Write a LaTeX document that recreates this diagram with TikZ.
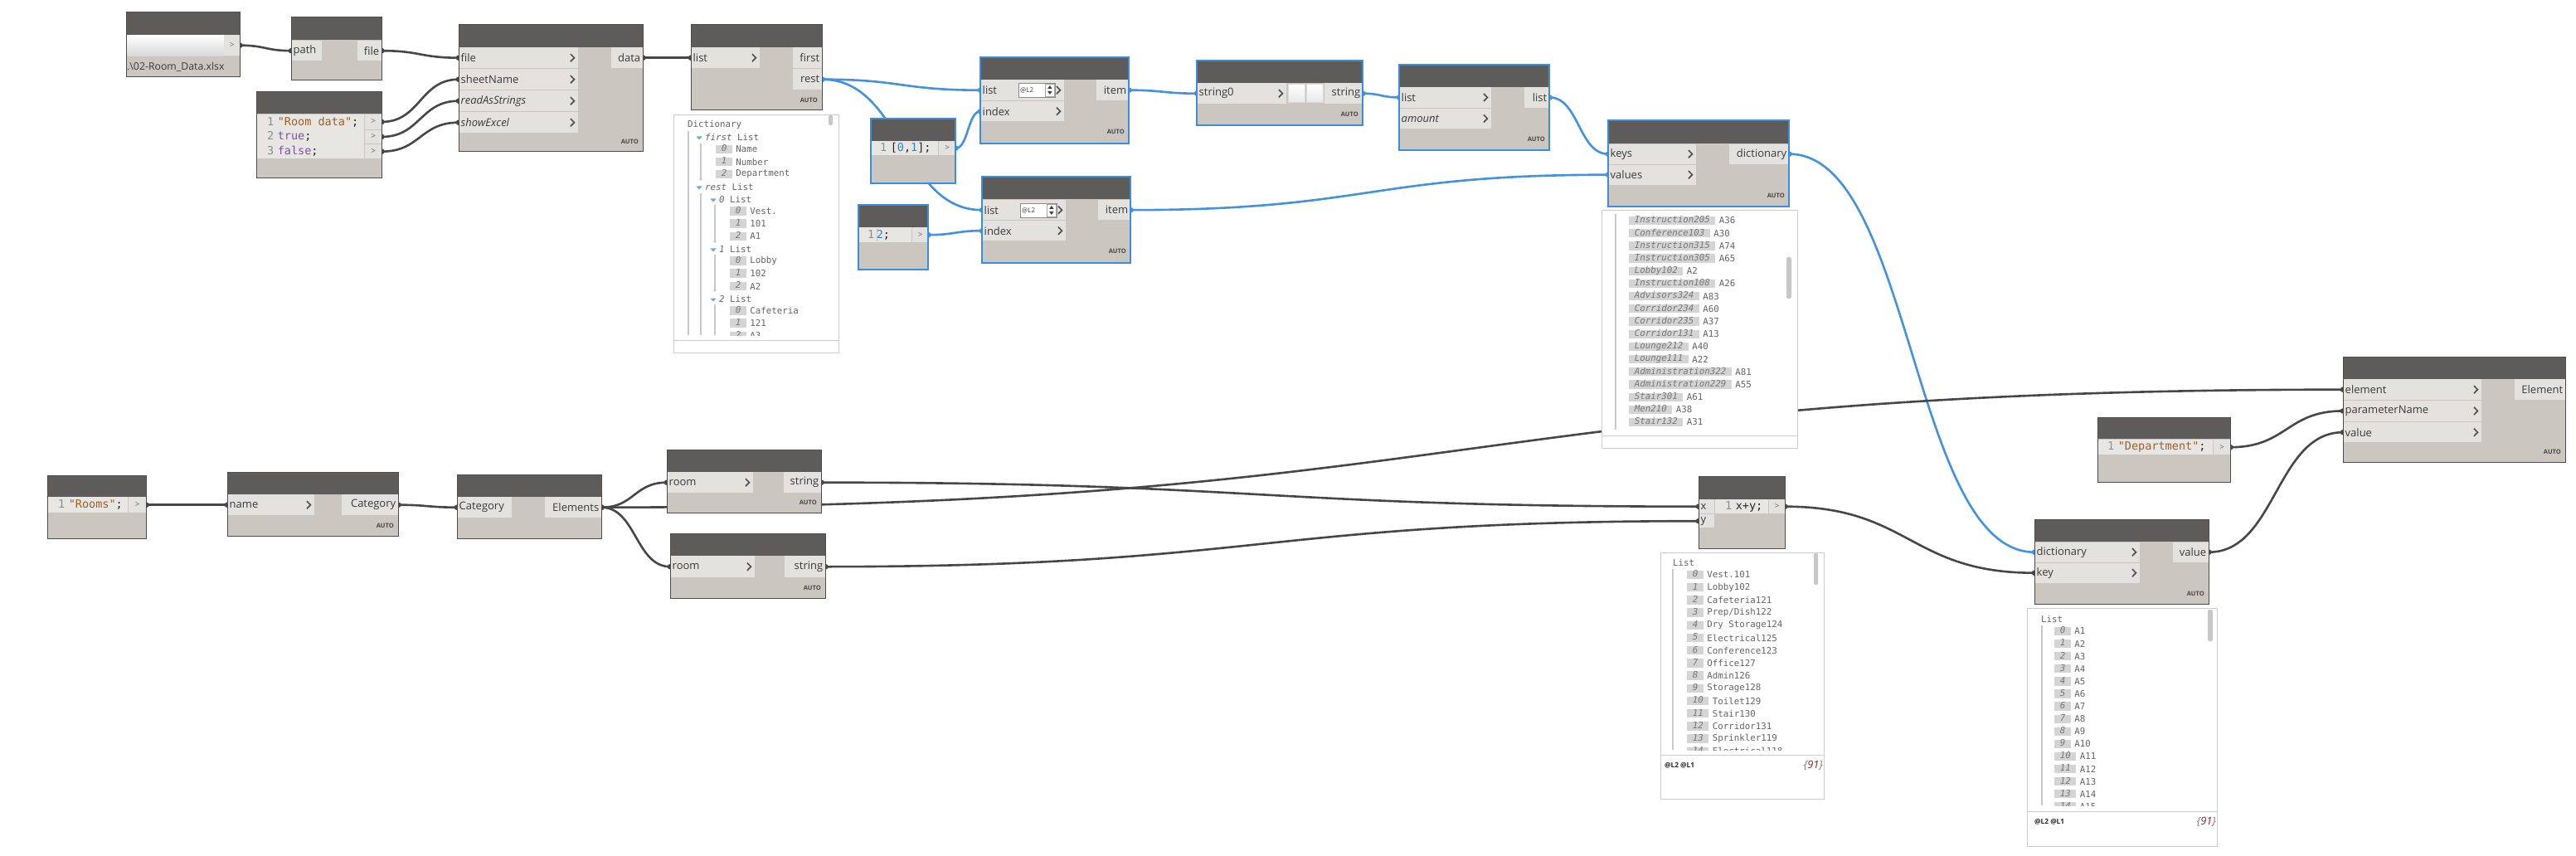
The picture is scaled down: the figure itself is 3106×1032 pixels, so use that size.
\documentclass[tikz,border=0pt]{standalone}
\usepackage{fontspec}
\setmainfont{Open Sans}
\newfontfamily\cmono{DejaVu Sans Mono}
\usetikzlibrary{calc}
\pgfdeclarelayer{bgl}
\pgfdeclarelayer{wl}
\pgfsetlayers{bgl,wl,main}

\definecolor{hdrc}{HTML}{5D5C5A}
\definecolor{bodyc}{HTML}{CBC7C0}
\definecolor{portc}{HTML}{E4E2DE}
\definecolor{codec}{HTML}{E8E6E3}
\definecolor{bordc}{HTML}{4E4D4B}
\definecolor{selc}{HTML}{3E8DDA}
\definecolor{wdc}{HTML}{474747}
\definecolor{wbc}{HTML}{4292DD}
\definecolor{txtc}{HTML}{3A3A3A}
\definecolor{wbordc}{HTML}{CCCCCC}
\definecolor{idxc}{HTML}{D4D4D4}
\definecolor{idxt}{HTML}{777777}
\definecolor{wtxtc}{HTML}{646464}
\definecolor{strc}{HTML}{99602C}
\definecolor{kwc}{HTML}{7B52AB}
\definecolor{numc}{HTML}{2B84DA}
\definecolor{lnc}{HTML}{8C8C8C}
\definecolor{tric}{HTML}{6FA7DA}
\definecolor{treec}{HTML}{C9C9C9}
\definecolor{redc}{HTML}{A31B1B}

\newcommand\pf{\fontsize{13}{15}\selectfont}
\newcommand\af{\fontsize{7.5}{9}\selectfont\bfseries}
\newcommand\cf{\cmono\fontsize{13.5}{16}\selectfont}
\newcommand\wf{\cmono\fontsize{10.8}{13}\selectfont}
\newcommand\lnum[1]{{\color{lnc}#1}\hspace{4.5pt}}
\newcommand\cstr[1]{{\color{strc}#1}}
\newcommand\ckw[1]{{\color{kwc}#1}}
\newcommand\cnum[1]{{\color{numc}#1}}

\tikzset{
 bodyn/.style={anchor=north west, inner sep=0pt, fill=bodyc, draw=none},
 portn/.style={anchor=north west, inner sep=0pt, fill=portc, draw=none},
 plab/.style={inner sep=0pt, font=\pf, text=txtc},
 autol/.style={anchor=east, inner sep=0pt, font=\af, text=black!72},
 chevr/.style={draw=black!68, line width=1.7pt},
 nframe/.style={draw=bordc, line width=1pt},
 sframe/.style={draw=selc, line width=2.6pt},
 wd/.style={color=wdc, line width=2.6pt},
 wb/.style={color=wbc, line width=2.6pt},
 codet/.style={anchor=west, inner sep=0pt, font=\cf, text=black!85},
 watchn/.style={anchor=north west, inner sep=0pt, fill=white, draw=wbordc, line width=1pt},
 keyb/.style={anchor=west, fill=idxc, inner xsep=6.6pt, inner ysep=0.4pt, text height=7.6pt, text depth=1.9pt, font=\wf\itshape, text=idxt},
 wtx/.style={anchor=west, inner sep=0pt, font=\wf, text=wtxtc},
 treel/.style={draw=treec, line width=1.2pt},
 scrl/.style={fill=black!22, rounded corners=2pt},
 btnn/.style={anchor=north west, inner sep=0pt, minimum width=20pt, minimum height=22pt, top color=white, bottom color=black!9, draw=black!14},
 fieldn/.style={anchor=north west, inner sep=0pt, top color=white, bottom color=black!15},
 spinb/.style={anchor=north west, inner sep=0pt, minimum width=44pt, minimum height=17pt, fill=white, draw=black!45, line width=0.6pt},
 footl/.style={anchor=west, inner sep=0pt, font=\fontsize{8.3}{10}\selectfont\bfseries, text=black!85},
 footr/.style={anchor=east, inner sep=0pt, font=\fontsize{12.8}{15}\selectfont\itshape, text=black!55},
}

\newcommand\dbody[6]{%
 \pgfmathsetmacro\dw{#4-#2}\pgfmathsetmacro\dh{#5-#3}%
 \node[bodyn, minimum width=\dw pt, minimum height=\dh pt] (#1) at (#2,#3) {};
 \fill[hdrc] (#2,#3) rectangle (#4,#6);}
\newcommand\dpin[6]{%
 \pgfmathsetmacro\dw{#4-#2}\pgfmathsetmacro\dh{#5-#3}%
 \node[portn, minimum width=\dw pt, minimum height=\dh pt] (#1) at (#2,#3) {};
 \node[plab, anchor=west] (#1-t) at ([xshift=2.5pt]#1.west) {#6};}
\newcommand\dpout[6]{%
 \pgfmathsetmacro\dw{#4-#2}\pgfmathsetmacro\dh{#5-#3}%
 \node[portn, minimum width=\dw pt, minimum height=\dh pt] (#1) at (#2,#3) {};
 \node[plab, anchor=east] (#1-t) at ([xshift=-3pt]#1.east) {#6};}
\newcommand\dchev[1]{\draw[chevr] ([xshift=-9.5pt,yshift=4.6pt]#1.east) -- ([xshift=-5pt]#1.east) -- ([xshift=-9.5pt,yshift=-4.6pt]#1.east);}
\newcommand\dcport[5]{%
 \pgfmathsetmacro\dw{#4-#2}\pgfmathsetmacro\dh{#5-#3}%
 \node[portn, minimum width=\dw pt, minimum height=\dh pt, font=\fontsize{10}{12}\selectfont, text=black!60] (#1) at (#2,#3) {>};}
\newcommand\dauto[3]{\node[autol] (#1) at (#2,#3) {AUTO};}
\newcommand\dspin[3]{%
 \node[spinb] (#1) at (#2,#3) {};
 \node[anchor=west, inner sep=0pt, font=\fontsize{8}{9}\selectfont, text=black!75] (#1-t) at ([xshift=2pt]#1.west) {@L2};
 \draw[black!35, line width=0.5pt] ($(#1.north east)+(-12,1.5)$) rectangle ($(#1.south east)+(-1.5,-1.5)$);
 \fill[black!75] ($(#1.north east)+(-9.5,7)$) -- ($(#1.north east)+(-4,7)$) -- ($(#1.north east)+(-6.75,3)$) -- cycle;
 \fill[black!75] ($(#1.north east)+(-9.5,10)$) -- ($(#1.north east)+(-4,10)$) -- ($(#1.north east)+(-6.75,14)$) -- cycle;}
\newcommand\witem[5]{%
 \node[keyb] (#1) at (#2,#3) {#4};
 \node[wtx] (#1v) at ([xshift=4pt]#1.east) {#5};}
\newcommand\wtri[2]{\fill[tric] (#1-3.5,#2-1.5) -- (#1+3.5,#2-1.5) -- (#1,#2+2.5) -- cycle;}
\newcommand\wire[3]{%
 \coordinate (wm) at ($(#2)!0.5!(#3)$);
 \draw[#1] (#2) .. controls (wm |- #2) and (wm |- #3) .. (#3);
 \fill[#1] (#2) circle (3.3pt) (#3) circle (3.3pt);}

\begin{document}
\begin{tikzpicture}[x=1pt,y=-1pt]
\begin{pgfonlayer}{bgl}
\fill[white] (0,0) rectangle (3106,1032);
\end{pgfonlayer}
\useasboundingbox (0,0) rectangle (3106,1032);

% ---------- N1 file path
\dbody{n1}{152}{15}{289}{93}{42}
\node[fieldn, minimum width=118pt, minimum height=25pt] (n1f) at (152,42) {};
\dcport{n1o}{270}{42}{289}{67}
\node[plab, anchor=west, font=\fontsize{12.3}{14}\selectfont] (n1t) at (153,81) {.\textbackslash 02-Room\_Data.xlsx};
\draw[nframe] (152,15) rectangle (289,93);

% ---------- N2 File.FromPath
\dbody{n2}{351}{21}{460}{97}{48}
\dpin{n2i}{351}{49}{388}{73}{path}
\dpout{n2o}{431}{49}{460}{73}{file}
\draw[nframe] (351,21) rectangle (460,97);

% ---------- N3 ImportExcel
\dbody{n3}{553}{30}{775}{183}{57}
\dpin{n3a}{553}{57}{697}{82}{file}\dchev{n3a}
\dpin{n3b}{553}{83}{697}{108}{sheetName}\dchev{n3b}
\dpin{n3c}{553}{109}{697}{134}{\itshape readAsStrings}\dchev{n3c}
\dpin{n3d}{553}{135}{697}{160}{\itshape showExcel}\dchev{n3d}
\dpout{n3o}{737}{57}{775}{82}{data}
\dauto{n3u}{770}{171}
\draw[nframe] (553,30) rectangle (775,183);

% ---------- N4 code block
\dbody{n4}{309}{111}{460}{215}{137}
\fill[codec] (309,138) rectangle (439,191);
\dcport{n4p1}{440}{138}{460}{155.5}
\dcport{n4p2}{440}{156.5}{460}{173}
\dcport{n4p3}{440}{174}{460}{191}
\node[codet] (n4l1) at (322,147) {\lnum{1}\cstr{"Room data"};};
\node[codet] (n4l2) at (322,164.5) {\lnum{2}\ckw{true};};
\node[codet] (n4l3) at (322,182) {\lnum{3}\ckw{false};};
\draw[nframe] (309,111) rectangle (460,215);

% ---------- N5 deconstruct
\dbody{n5}{833}{30}{991}{133}{57}
\dpin{n5i}{833}{57}{916}{82}{list}\dchev{n5i}
\dpout{n5a}{956}{57}{991}{82}{first}
\dpout{n5b}{956}{83}{991}{108}{rest}
\dauto{n5u}{986}{121}
\draw[nframe] (833,30) rectangle (991,133);

% ---------- W1 watch
\node[watchn, minimum width=199pt, minimum height=287pt] (w1) at (812,138) {};
\draw[draw=wbordc, line width=1pt] (812,410) -- (1011,410);
\fill[scrl] (999,139) rectangle (1004,151);
\begin{scope}
\clip (813,139) rectangle (998,404);
\draw[treel] (830,158) -- (830,404);
\draw[treel] (845,173) -- (845,216);
\draw[treel] (845,233) -- (845,404);
\draw[treel] (862,247) -- (862,291);
\draw[treel] (862,307) -- (862,350);
\draw[treel] (862,367) -- (862,404);
\fill[treec] (845,216) circle (1.9pt) (862,291) circle (1.9pt) (862,350) circle (1.9pt);
\node[wtx] (w1a) at (829,151) {Dictionary};
\wtri{843}{166}\node[wtx] (w1b) at (850,165) {\textit{first} List};
\witem{w1c}{863}{180}{0}{Name}
\witem{w1d}{863}{195}{1}{Number}
\witem{w1e}{863}{210}{2}{Department}
\wtri{843}{226}\node[wtx] (w1f) at (850,225) {\textit{rest} List};
\wtri{860}{241}\node[wtx] (w1g) at (867,240) {\textit{0} List};
\witem{w1h}{880}{254.5}{0}{Vest.}
\witem{w1i}{880}{269.5}{1}{101}
\witem{w1j}{880}{285}{2}{A1}
\wtri{860}{301}\node[wtx] (w1k) at (867,300) {\textit{1} List};
\witem{w1l}{880}{314.5}{0}{Lobby}
\witem{w1m}{880}{329.5}{1}{102}
\witem{w1n}{880}{345}{2}{A2}
\wtri{860}{361}\node[wtx] (w1o) at (867,360) {\textit{2} List};
\witem{w1p}{880}{374.5}{0}{Cafeteria}
\witem{w1q}{880}{389.5}{1}{121}
\witem{w1r}{880}{405}{2}{A3}
\end{scope}

% ---------- N6 code [0,1]
\dbody{n6}{1050}{143}{1152}{221}{170}
\fill[codec] (1050,170) rectangle (1131,187);
\dcport{n6p}{1132}{170}{1152}{187}
\node[codet] (n6t) at (1061,178.5) {\lnum{1}[\cnum{0},\cnum{1}];};
\draw[sframe] (1050,143) rectangle (1152,221);

% ---------- N7 GetItemAtIndex
\dbody{n7}{1182}{69}{1361}{173}{96}
\dpin{n7a}{1182}{96}{1283}{121}{list}\dchev{n7a}
\dpin{n7b}{1182}{122}{1283}{146}{index}\dchev{n7b}
\dspin{n7s}{1228}{100}
\dpout{n7o}{1322}{96}{1361}{121}{item}
\dauto{n7u}{1356}{159}
\draw[sframe] (1182,69) rectangle (1361,173);

% ---------- N8 String concat
\dbody{n8}{1443}{73}{1643}{151}{100}
\dpin{n8a}{1443}{100}{1551}{125}{string0}\dchev{n8a}
\node[btnn] (n8b1) at (1553,101) {};
\node[btnn] (n8b2) at (1575,101) {};
\dpout{n8o}{1597}{100}{1643}{125}{string}
\dauto{n8u}{1638}{138}
\draw[sframe] (1443,73) rectangle (1643,151);

% ---------- N9 chop
\dbody{n9}{1687}{78}{1868}{181}{105}
\dpin{n9a}{1687}{105}{1798}{129.5}{list}\dchev{n9a}
\dpin{n9b}{1687}{130.5}{1798}{155}{\itshape amount}\dchev{n9b}
\dpout{n9o}{1838}{105}{1868}{129.5}{list}
\dauto{n9u}{1863}{168}
\draw[sframe] (1687,78) rectangle (1868,181);

% ---------- N10 code 2
\dbody{n10}{1035}{247}{1119}{325}{274}
\fill[codec] (1035,274) rectangle (1099,292);
\dcport{n10p}{1100}{274}{1119}{292}
\node[codet] (n10t) at (1046,283) {{\color{lnc}1}\hspace{2.5pt}\cnum{2};};
\draw[black!40, dotted, line width=0.6pt] (1057.5,276) -- (1057.5,290);
\draw[sframe] (1035,247) rectangle (1119,325);

% ---------- N11 GetItemAtIndex
\dbody{n11}{1184}{213}{1363}{317}{240}
\dpin{n11a}{1184}{241}{1285}{265}{list}\dchev{n11a}
\dpin{n11b}{1184}{266}{1285}{290}{index}\dchev{n11b}
\dspin{n11s}{1230}{245}
\dpout{n11o}{1324}{241}{1363}{265}{item}
\dauto{n11u}{1358}{303}
\draw[sframe] (1184,213) rectangle (1363,317);

% ---------- N12 Dictionary.ByKeysValues
\dbody{n12}{1939}{145}{2157}{249}{173}
\dpin{n12a}{1939}{173.5}{2045}{197.5}{keys}\dchev{n12a}
\dpin{n12b}{1939}{198.5}{2045}{222.5}{values}\dchev{n12b}
\dpout{n12o}{2085}{173.5}{2157}{197.5}{dictionary}
\dauto{n12u}{2152}{236}
\draw[sframe] (1939,145) rectangle (2157,249);

% ---------- W2 watch
\node[watchn, minimum width=236pt, minimum height=287pt] (w2) at (1931,253) {};
\draw[draw=wbordc, line width=1pt] (1931,525) -- (2167,525);
\fill[scrl] (2154,310) rectangle (2160,360);
\begin{scope}
\clip (1932,254) rectangle (2152,520);
\draw[treel] (1948,258) -- (1948,518);
\foreach \k/\v [count=\c from 0] in {Instruction205/A36,Conference103/A30,Instruction315/A74,Instruction305/A65,Lobby102/A2,Instruction108/A26,Advisors324/A83,Corridor234/A60,Corridor235/A37,Corridor131/A13,Lounge212/A40,Lounge111/A22,Administration322/A81,Administration229/A55,Stair301/A61,Men210/A38,Stair132/A31}{
 \pgfmathsetmacro\yy{266+15.19*\c}
 \witem{w2k\c}{1964}{\yy}{\k}{\v}
}
\end{scope}

% ---------- N13 SetParameterByName
\dbody{n13}{2825}{430}{3093}{557}{457}
\dpin{n13a}{2825}{457}{2992}{482}{element}\dchev{n13a}
\dpin{n13b}{2825}{483}{2992}{507.5}{parameterName}\dchev{n13b}
\dpin{n13c}{2825}{509}{2992}{533}{value}\dchev{n13c}
\dpout{n13o}{3032}{457}{3093}{482}{Element}
\dauto{n13u}{3088}{545}
\draw[nframe] (2825,430) rectangle (3093,557);

% ---------- N14 code "Department"
\dbody{n14}{2529}{503}{2689}{581}{529}
\fill[codec] (2529,530) rectangle (2668,548);
\dcport{n14p}{2669}{530}{2689}{548}
\node[codet] (n14t) at (2541,539) {\lnum{1}\cstr{"Department"};};
\draw[nframe] (2529,503) rectangle (2689,581);

% ---------- N15 ValueAtKey
\dbody{n15}{2453}{626}{2663}{728}{653}
\dpin{n15a}{2453}{653.5}{2580}{677.5}{dictionary}\dchev{n15a}
\dpin{n15b}{2453}{678.5}{2580}{702.5}{key}\dchev{n15b}
\dpout{n15o}{2620}{653.5}{2663}{677.5}{value}
\dauto{n15u}{2658}{716}
\draw[nframe] (2453,626) rectangle (2663,728);

% ---------- W3 watch
\node[watchn, minimum width=229pt, minimum height=287pt] (w3) at (2444,733) {};
\draw[draw=wbordc, line width=1pt] (2444,978) -- (2673,978);
\fill[scrl] (2662,735) rectangle (2668,773);
\node[wtx] (w3l) at (2461,746) {List};
\begin{scope}
\clip (2445,752) rectangle (2660,971);
\draw[treel] (2462,754) -- (2462,971);
\foreach \i in {0,...,14}{
 \pgfmathtruncatemacro\j{\i+1}
 \pgfmathsetmacro\yy{761+15.1*\i}
 \witem{w3i\i}{2477}{\yy}{\i}{A\j}
}
\end{scope}
\node[footl] (w3f) at (2453,991) {@L2 @L1};
\node[footr] (w3g) at (2672,991) {\{{\color{redc}91}\}};

% ---------- N16 x+y
\dbody{n16}{2048}{574}{2152}{661}{602}
\dpin{n16x}{2048}{602}{2067}{619}{x}
\fill[codec] (2068,602) rectangle (2132,619);
\dcport{n16p}{2133}{602}{2152}{619}
\dpin{n16y}{2048}{620}{2067}{636}{y}
\node[codet] (n16t) at (2080,610.5) {\lnum{1}x+y;};
\draw[nframe] (2048,574) rectangle (2152,661);

% ---------- W4 watch
\node[watchn, minimum width=197pt, minimum height=297pt] (w4) at (2002,666) {};
\draw[draw=wbordc, line width=1pt] (2002,910) -- (2199,910);
\fill[scrl] (2187,667) rectangle (2192,705);
\node[wtx] (w4l) at (2017,678) {List};
\begin{scope}
\clip (2003,684) rectangle (2185,904);
\draw[treel] (2017,686) -- (2017,904);
\foreach \v [count=\c from 0] in {Vest.101,Lobby102,Cafeteria121,Prep/Dish122,Dry Storage124,Electrical125,Conference123,Office127,Admin126,Storage128,Toilet129,Stair130,Corridor131,Sprinkler119,Electrical118}{
 \pgfmathsetmacro\yy{693+15.2*\c}
 \witem{w4i\c}{2034}{\yy}{\c}{\v}
}
\end{scope}
\node[footl] (w4f) at (2007,923) {@L2 @L1};
\node[footr] (w4g) at (2198,923) {\{{\color{redc}91}\}};

% ---------- N17 "Rooms"
\dbody{n17}{57}{573}{176}{649}{599}
\fill[codec] (57,599) rectangle (154,618);
\dcport{n17p}{155}{599}{176}{618}
\node[codet] (n17t) at (70,608.5) {\lnum{1}\cstr{"Rooms"};};
\draw[nframe] (57,573) rectangle (176,649);

% ---------- N18 Categories
\dbody{n18}{274}{569}{480}{646}{596}
\dpin{n18a}{274}{596}{379}{621}{name}\dchev{n18a}
\dpout{n18o}{412}{596}{480}{621}{Category}
\dauto{n18u}{475}{634}
\draw[nframe] (274,569) rectangle (480,646);

% ---------- N19 All elements of category
\dbody{n19}{551}{572}{725}{649}{599}
\dpin{n19a}{551}{599}{617}{624}{Category}
\dpout{n19o}{657}{599}{725}{624}{Elements}
\draw[nframe] (551,572) rectangle (725,649);

% ---------- N20 room name
\dbody{n20}{804}{542}{990}{618}{569}
\dpin{n20a}{804}{569}{908}{594}{room}\dchev{n20a}
\dpout{n20o}{945}{569}{990}{594}{string}
\dauto{n20u}{985}{606}
\draw[nframe] (804,542) rectangle (990,618);

% ---------- N21 room number
\dbody{n21}{808}{643}{995}{721}{670}
\dpin{n21a}{808}{670}{910}{696}{room}\dchev{n21a}
\dpout{n21o}{946}{670}{995}{696}{string}
\dauto{n21u}{990}{709}
\draw[nframe] (808,643) rectangle (995,721);

% ---------- wires
\begin{pgfonlayer}{wl}
\wire{wd}{n1o.east}{n2i.west}
\wire{wd}{n2o.east}{n3a.west}
\wire{wd}{n3o.east}{n5i.west}
\wire{wd}{n4p1.east}{n3b.west}
\wire{wd}{n4p2.east}{n3c.west}
\wire{wd}{n4p3.east}{n3d.west}
\wire{wb}{n5b.east}{n7a.west}
\wire{wb}{n5b.east}{n11a.west}
\wire{wb}{n6p.east}{n7b.west}
\wire{wb}{n10p.east}{n11b.west}
\wire{wb}{n7o.east}{n8a.west}
\wire{wb}{n8o.east}{n9a.west}
\wire{wb}{n9o.east}{n12a.west}
\wire{wb}{n11o.east}{n12b.west}
\wire{wb}{n12o.east}{n15a.west}
\wire{wd}{n17p.east}{n18a.west}
\wire{wd}{n18o.east}{n19a.west}
\wire{wd}{n19o.east}{n20a.west}
\wire{wd}{n19o.east}{n21a.west}
\wire{wd}{n19o.east}{n13a.west}
\wire{wd}{n20o.east}{n16x.west}
\wire{wd}{n21o.east}{n16y.west}
\wire{wd}{n16p.east}{n15b.west}
\wire{wd}{n14p.east}{n13b.west}
\wire{wd}{n15o.east}{n13c.west}
\end{pgfonlayer}
\end{tikzpicture}
\end{document}
